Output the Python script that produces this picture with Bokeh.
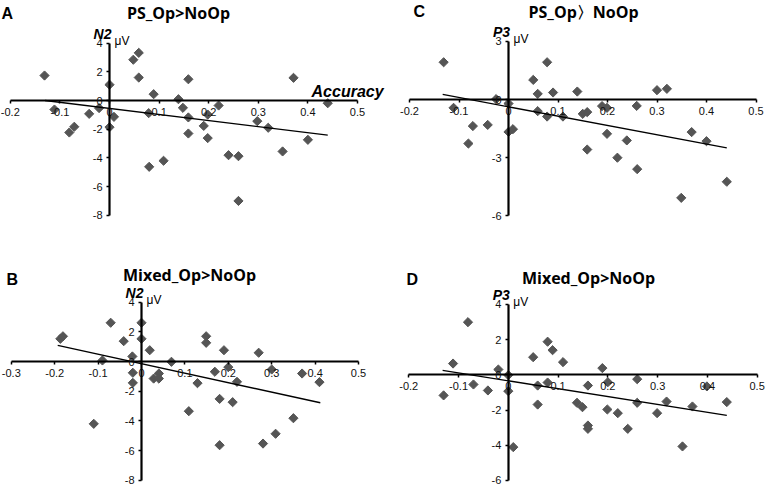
import numpy as np
from bokeh.plotting import figure
from bokeh.models import Range1d, FixedTicker, NumeralTickFormatter, Label
from bokeh.layouts import gridplot
from bokeh.embed import file_html
from bokeh.resources import INLINE

# ---------------- data ----------------
# Panel A: PS_Op>NoOp, N2 amplitude (uV) vs accuracy
a_x = [-0.131, 0.048, 0.059, 0.059, 0.0, 0.159, 0.089, 0.139, 0.148, 0.22, -0.021, -0.041,
       -0.111, 0.009, 0.079, 0.159, 0.198, -0.081, -0.071, 0.0, 0.159, 0.19, 0.198, 0.08,
       0.109, 0.24, 0.26, 0.26, 0.298, 0.32, 0.40, 0.349, 0.371, 0.44]
a_y = [1.74, 2.84, 3.32, 1.6, 1.1, 1.48, 0.44, 0.09, -0.51, -0.35, -0.53, -0.93,
       -0.63, -1.14, -0.88, -1.18, -0.98, -2.23, -1.83, -1.86, -2.3, -1.77, -2.62, -4.62,
       -4.2, -3.81, -3.88, -7.0, -1.44, -1.9, -2.74, -3.55, 1.58, -0.19]
a_trend_x = [-0.13, 0.44]
a_trend_y = [0.0, -2.42]

# Panel C: PS_Op>NoOp, P3
c_x = [-0.131, 0.078, 0.05, 0.059, 0.09, -0.025, 0.0, -0.111, 0.059, 0.078, 0.11, 0.139,
       0.30, 0.32, 0.189, 0.199, 0.259, 0.15, 0.159, -0.072, -0.042, -0.081, 0.0, 0.009,
       0.199, 0.159, 0.239, 0.22, 0.26, 0.37, 0.40, 0.441, 0.349]
c_y = [1.92, 1.92, 1.01, 0.29, 0.36, 0.02, -0.21, -0.43, -0.6, -0.88, -0.88, 0.41,
       0.48, 0.55, -0.34, -0.43, -0.33, -0.74, -0.65, -1.37, -1.31, -2.27, -1.67, -1.53,
       -1.77, -2.58, -2.11, -3.0, -3.59, -1.68, -2.15, -4.24, -5.07]
c_trend_x = [-0.133, 0.441]
c_trend_y = [0.26, -2.49]

# Panel B: Mixed_Op>NoOp, N2
b_x = [-0.187, -0.181, -0.071, 0.0, 0.0, -0.041, 0.019, -0.021, -0.09, 0.069, 0.149, 0.149,
       0.19, 0.27, -0.02, -0.02, 0.028, 0.04, 0.04, 0.129, 0.169, 0.2, 0.22, 0.18,
       0.21, 0.109, -0.11, 0.18, 0.28, 0.309, 0.35, 0.30, 0.37, 0.41]
b_y = [1.53, 1.70, 2.61, 2.61, 1.53, 1.37, 0.76, 0.34, 0.07, -0.02, 1.7, 1.26,
       0.76, 0.59, -0.76, -1.44, -1.15, -0.81, -1.15, -1.46, -0.69, -0.38, -1.37, -2.52,
       -2.74, -3.35, -4.2, -5.64, -5.53, -4.87, -3.82, -0.54, -0.81, -1.39]
b_trend_x = [-0.193, 0.412]
b_trend_y = [1.08, -2.78]

# Panel D: Mixed_Op>NoOp, P3
d_x = [-0.081, -0.111, -0.130, -0.070, -0.041, -0.020, 0.0, 0.0, 0.01, 0.05, 0.059, 0.059,
       0.079, 0.089, 0.079, 0.11, 0.138, 0.149, 0.16, 0.16, 0.16, 0.189, 0.2, 0.199,
       0.22, 0.24, 0.259, 0.259, 0.299, 0.318, 0.35, 0.37, 0.399, 0.439]
d_y = [2.99, 0.64, -1.17, -0.55, -0.89, 0.30, -0.02, -0.93, -4.11, 1.0, -0.61, -1.69,
       1.88, 1.40, -0.44, 0.72, -1.59, -1.84, -0.61, -2.88, -3.07, 0.38, -0.42, -1.97,
       -2.18, -3.07, -0.25, -1.59, -2.18, -1.52, -4.07, -1.80, -0.66, -1.55]
d_trend_x = [-0.132, 0.439]
d_trend_y = [0.25, -2.31]

x_ticks_a = [-0.2, -0.1, 0.0, 0.1, 0.2, 0.3, 0.4, 0.5]
x_ticks_b = [-0.3, -0.2, -0.1, 0.0, 0.1, 0.2, 0.3, 0.4, 0.5]
y_ticks_n2 = [-8, -6, -4, -2, 0, 2, 4]
y_ticks_c = [-6, -3, 0, 3]
y_ticks_d = [-6, -4, -2, 0, 2, 4]

TICK_FONT = "Liberation Sans"
TITLE_FONT = "Open Sans"
MARK = "#555555"


def make_panel(W, H, x0px, xscale, y0px, yscale, xticks, yticks, xs, ys, tx, ty,
               letter, letter_pos, title, title_pos, ylab, accuracy=False):
    x_start = -x0px / xscale
    x_end = (W - x0px) / xscale
    y_end = y0px / yscale
    y_start = (y0px - H) / yscale
    p = figure(width=W, height=H, x_range=Range1d(x_start, x_end),
               y_range=Range1d(y_start, y_end), output_backend="svg",
               toolbar_location=None, min_border=0)
    p.title.visible = False
    p.outline_line_color = None
    p.xgrid.visible = False
    p.ygrid.visible = False
    p.background_fill_color = "white"

    for ax in (p.xaxis[0], p.yaxis[0]):
        ax.fixed_location = 0
        ax.axis_line_width = 2.2
        ax.axis_line_color = "black"
        ax.major_tick_line_width = 1.5
        ax.major_tick_line_color = "black"
        ax.major_tick_out = 3
        ax.major_tick_in = 0
        ax.minor_tick_line_color = None
        ax.major_label_text_font = TICK_FONT
        ax.major_label_text_font_size = "11px"
        ax.major_label_text_color = "#111111"
    p.xaxis.bounds = (xticks[0], xticks[-1])
    p.yaxis.bounds = (yticks[0], yticks[-1])
    p.xaxis.ticker = FixedTicker(ticks=xticks)
    p.yaxis.ticker = FixedTicker(ticks=yticks)
    p.xaxis.formatter = NumeralTickFormatter(format="0.[0]")
    p.yaxis.formatter = NumeralTickFormatter(format="0")
    p.xaxis.major_label_standoff = 4
    p.yaxis.major_label_standoff = 4

    p.scatter(xs, ys, marker="square", angle=np.pi / 4, size=6.5,
              fill_color=MARK, line_color=MARK)
    p.line(tx, ty, line_color="black", line_width=1.3)

    ytop = yticks[-1]
    p.add_layout(Label(x=0, y=ytop, text=ylab, x_offset=-7, y_offset=9,
                       text_align="center", text_baseline="alphabetic",
                       text_font=TICK_FONT, text_font_style="bold italic",
                       text_font_size="14px", text_color="black"))
    p.add_layout(Label(x=0, y=ytop, text="\u03bcV", x_offset=5, y_offset=2,
                       text_align="left", text_baseline="middle",
                       text_font=TICK_FONT, text_font_size="12px", text_color="black"))
    if accuracy:
        p.add_layout(Label(x=0.48, y=0, text="Accuracy", y_offset=9,
                           text_align="center", text_baseline="alphabetic",
                           text_font=TICK_FONT, text_font_style="bold italic",
                           text_font_size="16px", text_color="black"))
    p.add_layout(Label(x=letter_pos[0], y=H - letter_pos[1], x_units="screen",
                       y_units="screen", text=letter, text_align="left",
                       text_baseline="alphabetic", text_font=TICK_FONT,
                       text_font_style="bold", text_font_size="16px", text_color="black"))
    p.add_layout(Label(x=title_pos[0], y=H - title_pos[1], x_units="screen",
                       y_units="screen", text=title, text_align="center",
                       text_baseline="alphabetic", text_font=TITLE_FONT,
                       text_font_style="bold", text_font_size="16px", text_color="black"))
    return p


pA = make_panel(385, 243, 109, 496, 100, 14.35, x_ticks_a, y_ticks_n2, a_x, a_y,
                a_trend_x, a_trend_y, "A", (1, 13), "PS_Op>NoOp", (178, 12), "N2",
                accuracy=True)
pC = make_panel(381, 243, 123, 495, 99, 19.4, x_ticks_a, y_ticks_c, c_x, c_y,
                c_trend_x, c_trend_y, "C", (28, 11), "PS_Op\u3009NoOp", (198, 11), "P3")
pB = make_panel(385, 243, 141, 434, 118, 14.84, x_ticks_b, y_ticks_n2, b_x, b_y,
                b_trend_x, b_trend_y, "B", (6, 36), "Mixed_Op>NoOp", (189, 31), "N2")
pD = make_panel(381, 243, 122.8, 497.7, 131.3, 17.6, x_ticks_a, y_ticks_d, d_x, d_y,
                d_trend_x, d_trend_y, "D", (21, 36), "Mixed_Op>NoOp", (203, 34), "P3")

layout = gridplot([[pA, pC], [pB, pD]], toolbar_location=None)

with open("out.html", "w") as f:
    f.write(file_html(layout, INLINE))
